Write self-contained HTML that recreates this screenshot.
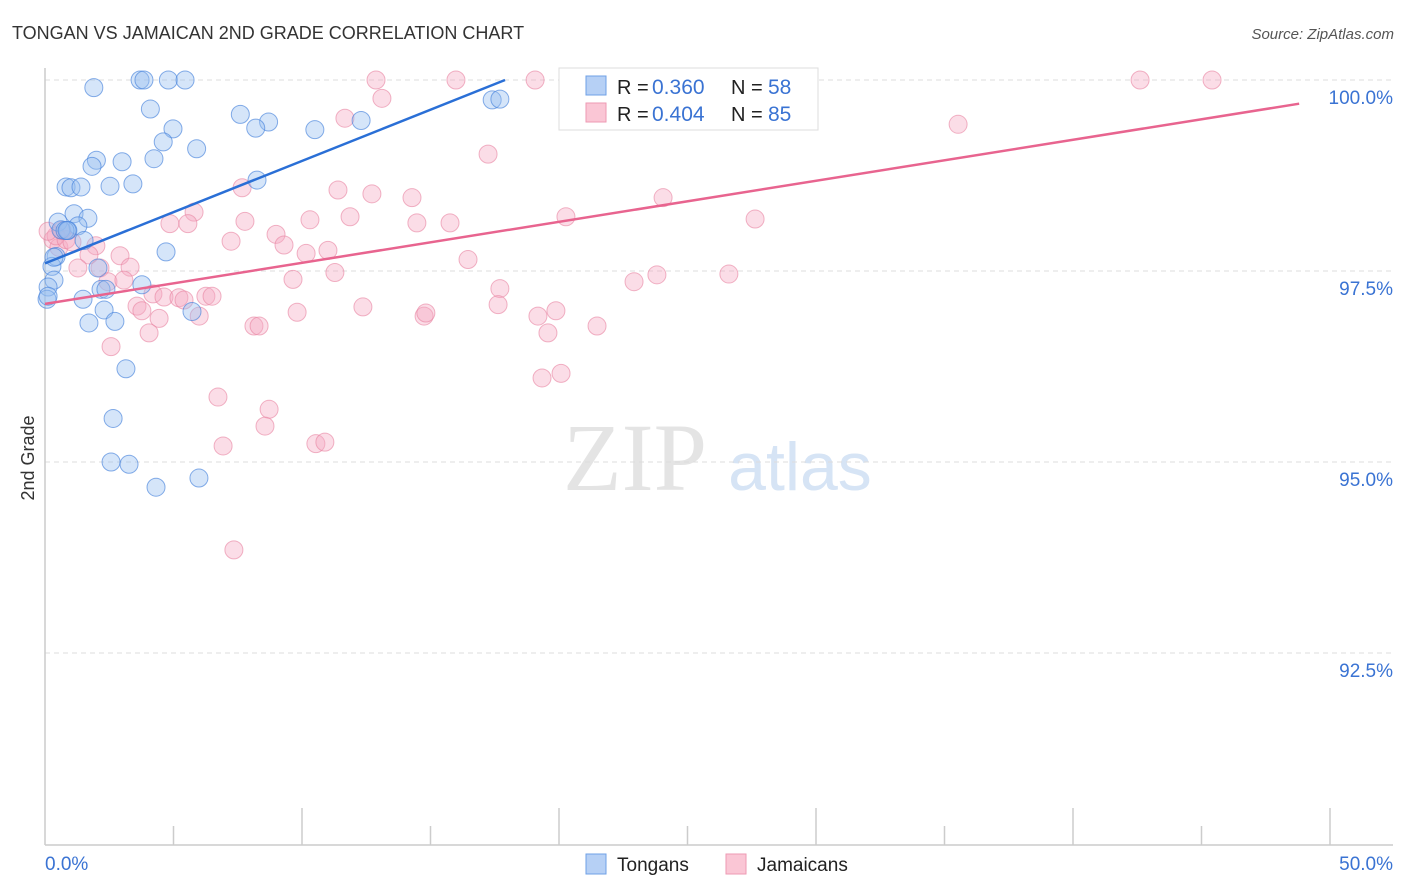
<!DOCTYPE html>
<html><head><meta charset="utf-8"><style>
body{margin:0;background:#fff;font-family:"Liberation Sans",sans-serif}
svg{display:block}
</style></head><body>
<svg id="c" width="1406" height="892" xmlns="http://www.w3.org/2000/svg">
<text x="12" y="39" font-size="18" fill="#333">TONGAN VS JAMAICAN 2ND GRADE CORRELATION CHART</text>
<text x="1394" y="39" font-size="15" fill="#555" font-style="italic" text-anchor="end">Source: ZipAtlas.com</text>
<text x="34" y="458" font-size="18" fill="#333" transform="rotate(-90 34 458)" text-anchor="middle">2nd Grade</text>
<g><text x="635" y="490" font-size="96" font-family="Liberation Serif,serif" fill="#e4e4e4" text-anchor="middle">ZIP</text><text x="800" y="490" font-size="68" fill="#d6e4f5" text-anchor="middle">atlas</text></g>
<g id="grid"></g><g id="axes"></g><g id="pts"></g><g id="lines"></g>
<g>
<rect x="559" y="68" width="259" height="62" fill="#fff" stroke="#ddd"/>
<rect x="586" y="76" width="20" height="19" fill="#b6d0f5" stroke="#6fa0e6"/>
<rect x="586" y="103" width="20" height="19" fill="#fac6d5" stroke="#ee9ab3"/>
<text x="617" y="94" font-size="20" fill="#222">R =</text><text x="652" y="94" font-size="21" fill="#3a73d3">0.360</text>
<text x="731" y="94" font-size="20" fill="#222">N =</text><text x="768" y="94" font-size="21" fill="#3a73d3">58</text>
<text x="617" y="121" font-size="20" fill="#222">R =</text><text x="652" y="121" font-size="21" fill="#3a73d3">0.404</text>
<text x="731" y="121" font-size="20" fill="#222">N =</text><text x="768" y="121" font-size="21" fill="#3a73d3">85</text>
</g>
<g>
<rect x="586" y="854" width="20" height="20" fill="#b6d0f5" stroke="#6fa0e6"/>
<text x="617" y="871" font-size="19" fill="#222">Tongans</text>
<rect x="726" y="854" width="20" height="20" fill="#fac6d5" stroke="#ee9ab3"/>
<text x="757" y="871" font-size="19" fill="#222">Jamaicans</text>
</g>
</svg>
<script>
const yTicks=[100,97.5,95,92.5];
const yTickLabels=["100.0%","97.5%","95.0%","92.5%"];
const xTickLabels=["0.0%","50.0%"];
const tonganX=[1.9,3.7,3.85,4.8,5.45,4.1,7.6,8.7,4.98,4.6,5.9,8.2,10.5,12.3,2.0,4.24,3.0,1.83,0.82,1.01,1.4,2.53,3.42,8.25,0.51,1.13,1.67,1.28,0.62,0.89,1.52,4.71,0.43,0.27,0.35,2.06,0.12,0.08,1.48,2.18,2.37,3.77,2.3,1.71,2.72,5.72,3.15,2.65,2.57,3.27,4.32,5.99,17.4,17.7,0.12,0.78,0.35,0.86];
const tonganY=[99.9,100,100,100,100,99.62,99.55,99.45,99.36,99.19,99.1,99.37,99.35,99.47,98.95,98.97,98.93,98.87,98.6,98.59,98.6,98.61,98.64,98.69,98.14,98.25,98.19,98.09,98.04,98.03,97.9,97.75,97.69,97.56,97.38,97.54,97.29,97.13,97.13,97.26,97.26,97.32,96.99,96.82,96.84,96.97,96.22,95.57,95.0,94.97,94.67,94.79,99.74,99.75,97.17,98.03,97.68,98.03];
const jamX=[12.88,15.99,19.07,26.54,27.24,42.61,45.41,13.11,11.67,35.53,17.24,7.67,11.4,12.72,14.28,24.05,5.8,4.86,5.56,7.78,10.31,11.87,14.47,15.76,20.27,27.63,8.99,7.24,9.3,10.16,11.01,0.31,0.54,0.43,0.82,1.05,1.98,1.71,2.92,1.28,2.14,3.31,2.45,3.07,9.65,11.28,16.46,17.7,22.92,23.81,26.61,4.2,4.63,5.21,5.41,6.26,6.5,3.58,3.77,4.44,6.0,9.81,12.37,14.75,14.82,17.63,19.18,19.88,21.48,19.57,4.05,8.13,8.33,2.57,19.34,20.08,6.73,8.72,8.56,6.93,10.54,10.89,7.35,0.12,0.66];
const jamY=[100,100,100,100,100,100,100,99.76,99.5,99.42,99.03,98.59,98.56,98.51,98.46,98.46,98.27,98.12,98.12,98.15,98.17,98.21,98.13,98.13,98.21,98.18,97.98,97.89,97.84,97.73,97.77,97.91,97.81,97.96,97.91,97.88,97.83,97.71,97.7,97.54,97.54,97.55,97.36,97.38,97.39,97.48,97.65,97.27,97.36,97.45,97.46,97.2,97.16,97.15,97.12,97.17,97.17,97.04,96.98,96.88,96.91,96.96,97.03,96.91,96.95,97.06,96.91,96.98,96.78,96.69,96.69,96.78,96.78,96.51,96.1,96.16,95.85,95.69,95.47,95.21,95.24,95.26,93.85,98.02,98.03];
const tonganFit=[[0,97.6],[17.9,100]];
const jamFit=[[0,97.07],[48.8,99.69]];
const NS="http://www.w3.org/2000/svg";
const X=v=>45+v*25.7, Y=v=>80+(100-v)*76.4;
function mk(t,a,p){const e=document.createElementNS(NS,t);for(const k in a)e.setAttribute(k,a[k]);document.getElementById(p).appendChild(e);return e;}
yTicks.forEach((t,i)=>{
 const g=mk('line',{x1:45,x2:1393,y1:Y(t),y2:Y(t),stroke:'#ddd','stroke-dasharray':'5,4'},'grid');
 
 
 const l=mk('text',{x:1393,y:Y(t)+24,'font-size':19,fill:'#3a73d3','text-anchor':'end'},'grid');l.textContent=yTickLabels[i];
 
 
});
const ax=mk('line',{x1:45,x2:1393,y1:845,y2:845,stroke:'#ccc','stroke-width':1.5},'axes');


const ay=mk('line',{x1:45,x2:45,y1:68,y2:845,stroke:'#ccc','stroke-width':1.5},'axes');


for(let i=1;i<=10;i++){const tk=mk('line',{x1:X(i*5),x2:X(i*5),y1:(i%2?826:808),y2:845,stroke:'#ccc','stroke-width':1.5},'axes');
 
 }
const xl0=mk('text',{x:45,y:870,'font-size':19,fill:'#3a73d3'},'axes');xl0.textContent=xTickLabels[0];


const xl1=mk('text',{x:1393,y:870,'font-size':19,fill:'#3a73d3','text-anchor':'end'},'axes');xl1.textContent=xTickLabels[1];


jamX.forEach((x,i)=>{const c=mk('circle',{cx:X(x),cy:Y(jamY[i]),r:9,fill:'rgba(246,170,195,0.4)',stroke:'rgba(232,130,160,0.6)'},'pts');
 
 });
tonganX.forEach((x,i)=>{const c=mk('circle',{cx:X(x),cy:Y(tonganY[i]),r:9,fill:'rgba(150,190,240,0.4)',stroke:'rgba(70,130,220,0.65)'},'pts');
 
 });
const l1=mk('line',{x1:X(tonganFit[0][0]),y1:Y(tonganFit[0][1]),x2:X(tonganFit[1][0]),y2:Y(tonganFit[1][1]),stroke:'#2a6fd6','stroke-width':2.5},'lines');


const l2=mk('line',{x1:X(jamFit[0][0]),y1:Y(jamFit[0][1]),x2:X(jamFit[1][0]),y2:Y(jamFit[1][1]),stroke:'#e8648f','stroke-width':2.5},'lines');


</script>
</body></html>
